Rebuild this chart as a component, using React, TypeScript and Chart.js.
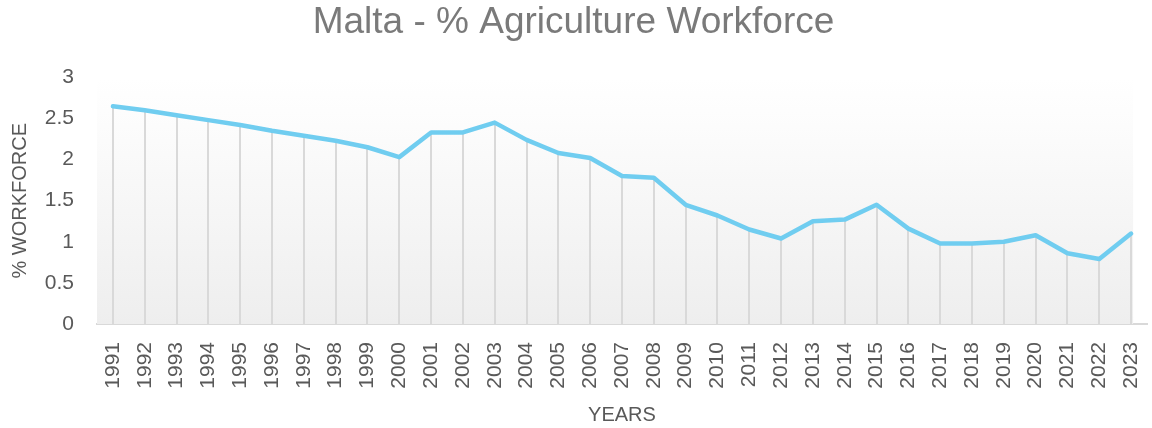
import React, { useEffect, useRef } from "react";
import { Chart, registerables } from "chart.js";

Chart.register(...registerables);

const years: string[] = [
  "1991", "1992", "1993", "1994", "1995", "1996", "1997", "1998", "1999", "2000",
  "2001", "2002", "2003", "2004", "2005", "2006", "2007", "2008", "2009", "2010",
  "2011", "2012", "2013", "2014", "2015", "2016", "2017", "2018", "2019", "2020",
  "2021", "2022", "2023",
];

const workforcePct: number[] = [
  2.65, 2.6, 2.54, 2.48, 2.42, 2.35, 2.29, 2.23, 2.15, 2.03,
  2.33, 2.33, 2.45, 2.24, 2.08, 2.02, 1.8, 1.78, 1.45, 1.32,
  1.15, 1.04, 1.25, 1.27, 1.45, 1.16, 0.98, 0.98, 1.0, 1.08,
  0.86, 0.79, 1.1,
];

const FONT = "'Liberation Sans', Arial, sans-serif";

const plotBackground = {
  id: "plotBackground",
  beforeDatasetsDraw(chart: any) {
    const { ctx, chartArea, scales } = chart;
    const x = scales.x;
    const right = x.getPixelForValue(years.length - 1) + 2;
    const g = ctx.createLinearGradient(0, chartArea.top, 0, chartArea.bottom);
    g.addColorStop(0, "#ffffff");
    g.addColorStop(0.2, "#fcfcfc");
    g.addColorStop(1, "#eeeeee");
    ctx.save();
    ctx.fillStyle = g;
    ctx.fillRect(chartArea.left, chartArea.top, right - chartArea.left, chartArea.bottom - chartArea.top);
    // drop lines
    const meta = chart.getDatasetMeta(0);
    const y0 = scales.y.getPixelForValue(0);
    ctx.strokeStyle = "#d9d9d9";
    ctx.lineWidth = 2;
    meta.data.forEach((pt: any) => {
      ctx.beginPath();
      ctx.moveTo(Math.round(pt.x), pt.y);
      ctx.lineTo(Math.round(pt.x), y0);
      ctx.stroke();
    });
    ctx.restore();
  },
};

export default function App() {
  const canvasRef = useRef<HTMLCanvasElement | null>(null);

  useEffect(() => {
    if (!canvasRef.current) return;
    const chart = new Chart(canvasRef.current, {
      type: "line",
      data: {
        labels: years,
        datasets: [
          {
            data: workforcePct,
            borderColor: "#70cdf0",
            borderWidth: 4.5,
            pointRadius: 0,
            tension: 0,
            fill: false,
            borderCapStyle: "round",
            borderJoinStyle: "round",
          },
        ],
      },
      options: {
        animation: false,
        responsive: true,
        maintainAspectRatio: false,
        layout: { padding: { left: 0, right: 5, top: 0, bottom: 0 } },
        plugins: {
          legend: { display: false },
          tooltip: { enabled: false },
          title: {
            display: true,
            text: "Malta - % Agriculture Workforce",
            color: "#7a7a7a",
            font: { family: FONT, size: 37, weight: "normal" },
            padding: { top: 1, bottom: 32 },
          },
        },
        scales: {
          x: {
            offset: true,
            grid: { display: false, drawTicks: false },
            border: { display: true, color: "#d9d9d9", width: 2 },
            ticks: {
              color: "#595959",
              font: { family: FONT, size: 21 },
              maxRotation: 90,
              minRotation: 90,
              autoSkip: false,
              padding: 18,
            },
            title: {
              display: true,
              text: "YEARS",
              color: "#595959",
              font: { family: FONT, size: 20 },
              padding: { top: 0, bottom: 1 },
            },
            afterFit(scale: any) {
              scale.height = 104;
              scale.paddingLeft = 0;
              scale.paddingRight = 0;
            },
          },
          y: {
            min: 0,
            max: 3,
            grid: { display: false, drawTicks: false },
            border: { display: false },
            ticks: {
              stepSize: 0.5,
              color: "#595959",
              font: { family: FONT, size: 21 },
              padding: 23,
              callback: (v: any) => String(Number(v)),
            },
            title: {
              display: true,
              text: "% WORKFORCE",
              color: "#595959",
              font: { family: FONT, size: 20 },
              padding: { top: 8, bottom: 0 },
            },
            afterFit(scale: any) {
              scale.width = 97;
            },
          },
        },
      },
      plugins: [plotBackground],
    });
    return () => chart.destroy();
  }, []);

  return (
    <div style={{ position: "fixed", left: 0, top: 0, width: 1152, height: 428, background: "#ffffff" }}>
      <canvas ref={canvasRef} />
    </div>
  );
}
